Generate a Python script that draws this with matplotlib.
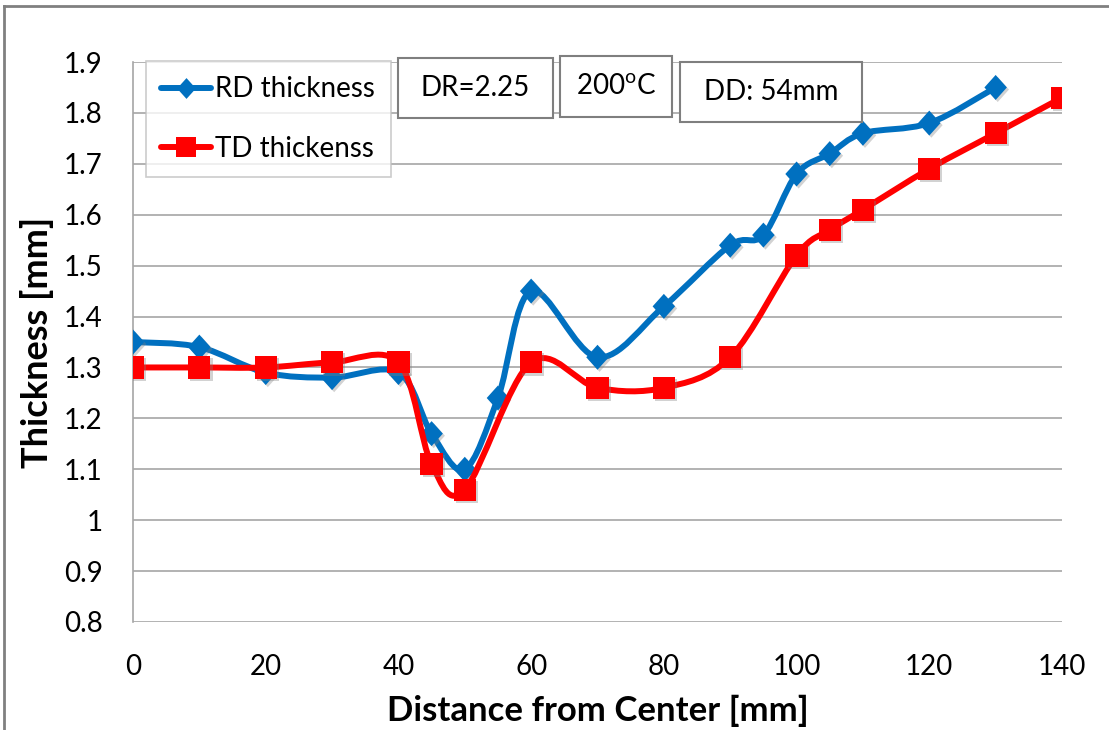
import numpy as np
import matplotlib
matplotlib.use("Agg")
import matplotlib.pyplot as plt
from matplotlib.path import Path
from matplotlib.patches import PathPatch, Rectangle
from matplotlib.lines import Line2D
import matplotlib.patheffects as pe

plt.rcParams['font.family'] = ['Lato', 'DejaVu Sans']
plt.rcParams['mathtext.fontset'] = 'custom'
plt.rcParams['mathtext.rm'] = 'Lato'

# Rolling-direction thickness
rd_x = [0, 10, 20, 30, 40, 45, 50, 55, 60, 70, 80, 90, 95, 100, 105, 110, 120, 130]
rd_y = [1.35, 1.34, 1.29, 1.28, 1.29, 1.17, 1.10, 1.24, 1.45, 1.32, 1.42, 1.54,
        1.56, 1.68, 1.72, 1.76, 1.78, 1.85]

# Transverse-direction thickness
td_x = [0, 10, 20, 30, 40, 45, 50, 60, 70, 80, 90, 100, 105, 110, 120, 130, 140]
td_y = [1.30, 1.30, 1.30, 1.31, 1.31, 1.11, 1.06, 1.31, 1.26, 1.26, 1.32, 1.52,
        1.57, 1.61, 1.69, 1.76, 1.83]

x_ticks = [0, 20, 40, 60, 80, 100, 120, 140]
y_ticks = [0.8, 0.9, 1.0, 1.1, 1.2, 1.3, 1.4, 1.5, 1.6, 1.7, 1.8, 1.9]
y_tick_labels = ['0.8', '0.9', '1', '1.1', '1.2', '1.3', '1.4', '1.5', '1.6',
                 '1.7', '1.8', '1.9']

BLUE = '#0070C0'
RED = '#FF0000'
GRID = '#A6A6A6'

DIAMOND = Path([(0, 1), (0.9, 0), (0, -1), (-0.9, 0), (0, 1)],
               [Path.MOVETO, Path.LINETO, Path.LINETO, Path.LINETO, Path.CLOSEPOLY])


def smooth_path(xs, ys, k=1.0 / 6.0):
    """Cubic Bezier path through the points (Catmull-Rom style smoothing)."""
    p = np.column_stack([xs, ys]).astype(float)
    n = len(p)
    verts = [p[0]]
    codes = [Path.MOVETO]
    for i in range(n - 1):
        p0 = p[i - 1] if i > 0 else p[i]
        p1 = p[i]
        p2 = p[i + 1]
        p3 = p[i + 2] if i + 2 < n else p[i + 1]
        c1 = p1 + (p2 - p0) * k
        c2 = p2 - (p3 - p1) * k
        verts += [c1, c2, p2]
        codes += [Path.CURVE4] * 3
    return Path(verts, codes)


W, H = 1109, 730
fig = plt.figure(figsize=(W / 100, H / 100), dpi=100)
ax = fig.add_axes([133 / W, 1 - 622 / H, 929 / W, 560 / H])

ax.set_xlim(0, 140)
ax.set_ylim(0.8, 1.9)

shadow = [pe.SimplePatchShadow(offset=(1.5, -1.5), shadow_rgbFace='#808080', alpha=0.35),
          pe.Normal()]

lw = 4.3
series = [
    (rd_x, rd_y, BLUE, DIAMOND, 18, 3),
    (td_x, td_y, RED, 's', 16, 4),
]
for xs, ys, color, marker, ms, z in series:
    patch = PathPatch(smooth_path(xs, ys), facecolor='none', edgecolor=color,
                      lw=lw, capstyle='round', joinstyle='round', zorder=z)
    ax.add_patch(patch)
    ax.plot(xs, ys, linestyle='none', marker=marker, markersize=ms,
            markerfacecolor=color, markeredgecolor=color, markeredgewidth=0,
            zorder=z + 0.5, path_effects=shadow)

ax.set_xticks(x_ticks)
ax.set_yticks(y_ticks)
ax.set_yticklabels(y_tick_labels)
ax.tick_params(axis='both', length=0, labelsize=20, colors='black')
ax.tick_params(axis='x', pad=23)
ax.tick_params(axis='y', pad=22)

ax.grid(axis='y', color=GRID, lw=1.2)
ax.set_axisbelow(True)
for side in ['top', 'right', 'bottom']:
    ax.spines[side].set_visible(False)
ax.spines['left'].set_color(GRID)
ax.spines['left'].set_linewidth(1.2)

ax.set_xlabel('Distance from Center [mm]', fontsize=25, fontweight='bold')
ax.set_ylabel('Thickness [mm]', fontsize=26, fontweight='bold')
ax.xaxis.label.set_va('center')
ax.yaxis.label.set_va('center')
ax.xaxis.set_label_coords(0.5, (622 - 711) / 560)
ax.yaxis.set_label_coords((37 - 133) / 929, 0.5)

handles = [
    Line2D([], [], color=BLUE, lw=lw, marker=DIAMOND, markersize=15,
           markeredgewidth=0, solid_capstyle='round'),
    Line2D([], [], color=RED, lw=lw, marker='s', markersize=14.5,
           markeredgewidth=0, solid_capstyle='round'),
]
leg = ax.legend(handles, ['RD thickness', 'TD thickenss'], loc='upper left',
                bbox_to_anchor=(146 / W, 1 - 61 / H),
                bbox_transform=fig.transFigure, fontsize=20, frameon=True,
                fancybox=False, edgecolor='#BFBFBF', handlelength=1.8,
                handletextpad=0.15, labelspacing=1.2, borderpad=0.55,
                borderaxespad=0.0)
leg.get_frame().set_linewidth(1.2)
leg.set_zorder(10)


def label_box(x0, y0, x1, y1, text):
    w = (x1 - x0) / W
    h = (y1 - y0) / H
    fx = x0 / W
    fy = 1 - y1 / H
    fig.patches.append(Rectangle((fx, fy), w, h, transform=fig.transFigure,
                                 facecolor='white', edgecolor='#7F7F7F',
                                 lw=1.5, zorder=10))
    fig.text(fx + w / 2, fy + h / 2, text, ha='center', va='center',
             fontsize=20, zorder=11)


label_box(398, 58, 553, 118, 'DR=2.25')
label_box(560, 56, 672, 117, r'200$^{\rm o}$C')
label_box(680, 62, 862, 122, 'DD: 54mm')

# outer chart border (top and left edges)
fig.add_artist(Line2D([4 / W, 4 / W], [0, 1 - 6 / H],
                      transform=fig.transFigure, color='#808080', lw=2))
fig.add_artist(Line2D([4 / W, 1], [1 - 6 / H, 1 - 6 / H],
                      transform=fig.transFigure, color='#808080', lw=2))

fig.savefig('out.png', dpi=100)
